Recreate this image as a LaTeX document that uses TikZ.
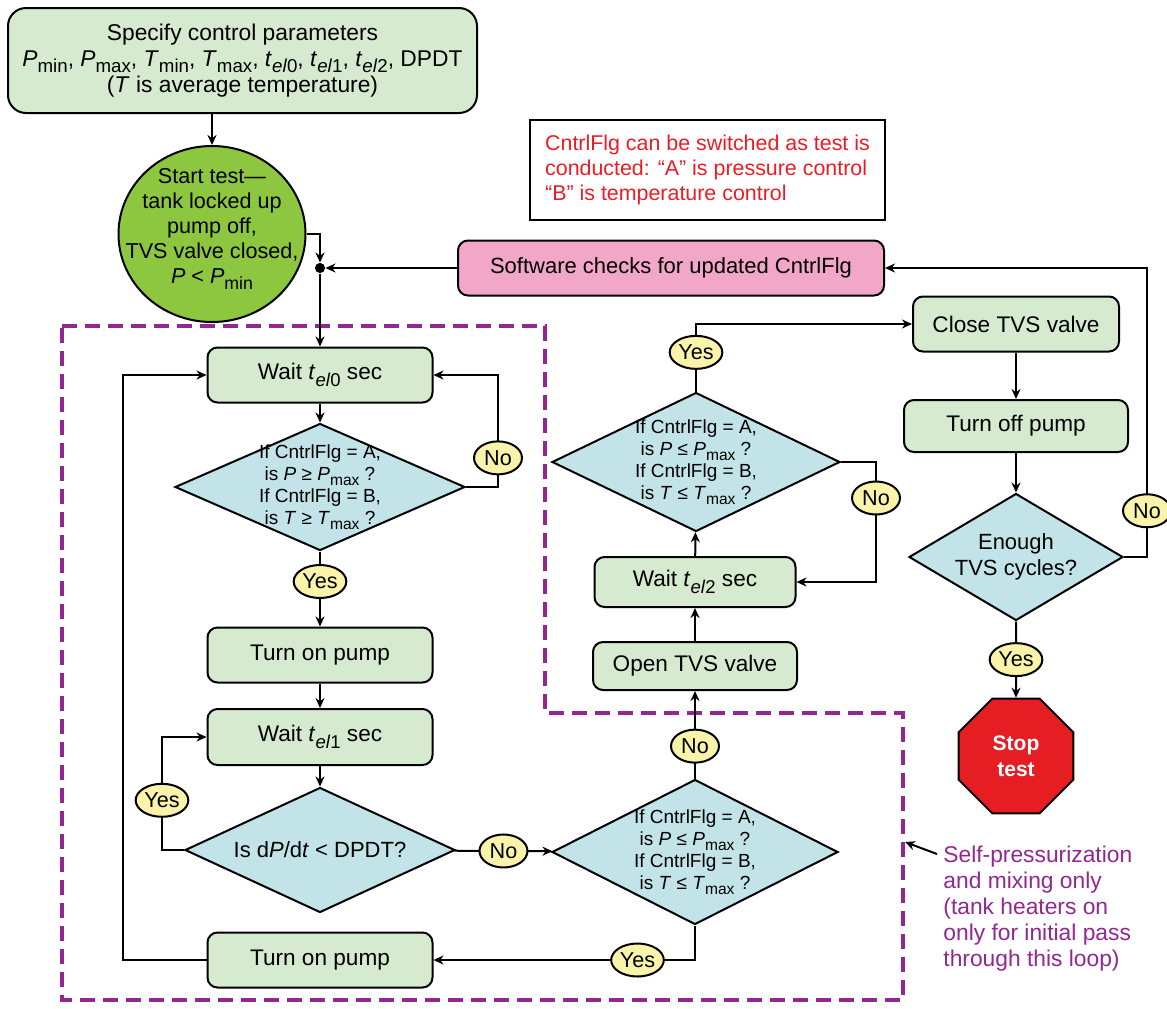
\documentclass[tikz,border=0pt]{standalone}
\usepackage{fontspec}
\usepackage{graphicx}
\setmainfont{Liberation Sans}
\usetikzlibrary{shapes.geometric,arrows.meta}
\definecolor{boxgreen}{RGB}{214,234,208}
\definecolor{diablue}{RGB}{194,228,232}
\definecolor{ynyellow}{RGB}{250,243,170}
\definecolor{startgreen}{RGB}{141,198,63}
\definecolor{softpink}{RGB}{243,167,200}
\definecolor{stopred}{RGB}{230,30,36}
\definecolor{looppurple}{RGB}{146,39,143}
\definecolor{notered}{RGB}{237,28,36}
\newcommand{\lowsub}[1]{\raisebox{-0.28em}{\scalebox{0.82}{#1}}}
\newcommand{\vsub}[2]{\textit{#1}\lowsub{#2}}
\newcommand{\tel}[1]{\textit{t}\lowsub{\textit{el}#1}}
\tikzset{
  proc/.style={draw, line width=1pt, rounded corners=5pt, fill=boxgreen, align=center,
    font=\fontsize{11.3}{13}\selectfont, minimum width=112.5pt, minimum height=27.5pt},
  dia/.style={draw, line width=1pt, diamond, fill=diablue, inner sep=0pt},
  dtext/.style={align=center, font=\fontsize{9.5}{11}\selectfont},
  yn/.style={draw, ellipse, line width=1pt, fill=ynyellow, inner sep=0.5pt,
    minimum width=24pt, minimum height=16.5pt, font=\fontsize{10.8}{11}\selectfont},
  arr/.style={line width=1pt, -{Stealth[length=5pt,width=4.5pt]}}
}
\begin{document}
\begin{tikzpicture}[x=0.5pt, y=-0.5pt]
  \useasboundingbox (0,0) rectangle (1167,1008);

  \draw[looppurple, line width=1.6pt, dash pattern=on 7.5pt off 4pt]
    (62,326) -- (545,326) -- (545,713) -- (903,713) -- (903,1000) -- (62,1000) -- cycle;

  \node[proc, minimum width=234.5pt, minimum height=52.5pt, rounded corners=9pt,
    font=\fontsize{11.4}{13}\selectfont] (spec) at (242.5,60.5)
    {Specify control parameters\\
     \vsub{P}{min}, \vsub{P}{max}, \vsub{T}{min}, \vsub{T}{max}, \tel{0}, \tel{1}, \tel{2}, DPDT\\
     (\textit{T} is average temperature)};
  \node[draw, ellipse, line width=1pt, fill=startgreen, inner sep=0pt,
    minimum width=93.5pt, minimum height=88pt] (start) at (212,234) {};
  \node[align=center, font=\fontsize{10.8}{12.5}\selectfont] (startt) at (212,229)
    {Start test---\\tank locked up\\pump off,\\TVS valve closed,\\\textit{P} < \vsub{P}{min}};
  \node[circle, fill, inner sep=1.8pt] (jn) at (320,268) {};
  \node[proc, fill=softpink, minimum width=213pt, font=\fontsize{11}{13}\selectfont] (soft) at (671,268)
    {Software checks for updated CntrlFlg};
  \node[draw, line width=1.3pt, text=notered, align=left, minimum width=175.5pt,
    inner xsep=7.5pt, minimum height=50pt, font=\fontsize{10.7}{12.5}\selectfont]
    (note) at (707.5,170)
    {CntrlFlg can be switched as test is\\conducted: ``A'' is pressure control\\``B'' is temperature control};

  \node[proc] (wait0) at (320,375) {Wait \tel{0} sec};
  \node[dia, minimum width=145pt, minimum height=63.5pt] (d1) at (320,487) {};
  \node[dtext] (d1t) at (d1) {If CntrlFlg = A,\\ is \textit{P} ≥ \vsub{P}{max} ?\\If CntrlFlg = B,\\is \textit{T} ≥ \vsub{T}{max} ?};
  \node[proc] (pump1) at (320,655) {Turn on pump};
  \node[proc, minimum height=28pt] (wait1) at (320,737) {Wait \tel{1} sec};
  \node[dia, minimum width=135pt, minimum height=62.5pt] (d2) at (320,850) {};
  \node[dtext, font=\fontsize{11}{13}\selectfont] (d2t) at (d2) {Is d\textit{P}/d\textit{t} < DPDT?};
  \node[proc] (pump2) at (320,960) {Turn on pump};

  \node[dia, minimum width=143pt, minimum height=72.5pt] (d3) at (695,852) {};
  \node[dtext] (d3t) at (d3) {If CntrlFlg = A,\\ is \textit{P} ≤ \vsub{P}{max} ?\\If CntrlFlg = B,\\is \textit{T} ≤ \vsub{T}{max} ?};
  \node[proc, minimum width=102pt, minimum height=24pt] (open) at (695,666) {Open TVS valve};
  \node[proc, minimum width=100.5pt, minimum height=25pt] (wait2) at (695,582) {Wait \tel{2} sec};
  \node[dia, minimum width=144pt, minimum height=69.5pt] (d4) at (696,462) {};
  \node[dtext] (d4t) at (d4) {If CntrlFlg = A,\\ is \textit{P} ≤ \vsub{P}{max} ?\\If CntrlFlg = B,\\is \textit{T} ≤ \vsub{T}{max} ?};

  \node[proc, minimum width=103pt] (close) at (1016,324) {Close TVS valve};
  \node[proc, minimum width=112pt, minimum height=26pt] (off) at (1016,426) {Turn off pump};
  \node[dia, minimum width=107pt, minimum height=63.5pt] (d5) at (1016,557) {};
  \node[dtext, font=\fontsize{11}{13}\selectfont] (d5t) at (d5) {Enough\\TVS cycles?};
  \node[draw, line width=1pt, regular polygon, regular polygon sides=8, fill=stopred,
    minimum size=62pt, inner sep=0pt, text=white, align=center,
    font=\bfseries\fontsize{10.5}{13}\selectfont] (stop) at (1016,756) {Stop\\test};

  \node[text=looppurple, align=left, anchor=north west, inner sep=0pt,
    font=\fontsize{11.4}{13}\selectfont] (loopnote) at (943,846)
    {Self-pressurization\\and mixing only\\(tank heaters on\\only for initial pass\\through this loop)};
  \coordinate (loopedge) at (905,842);

  \draw[arr] (start |- spec.south) -- (start);
  \draw[arr] (start.east) -| (jn);
  \draw[arr] (soft) -- (jn);
  \draw[arr] (jn) -- (wait0);
  \draw[arr] (wait0) -- (d1);
  \draw[arr] (d1.east) -- ++(32,0) |- node[yn, pos=0.13] (no1) {No} (wait0.east);
  \draw[arr] (d1) -- node[yn, pos=0.4] (yes1) {Yes} (pump1);
  \draw[arr] (pump1) -- (wait1);
  \draw[arr] (wait1) -- (d2);
  \draw[arr] (d2.west) -- ++(-22,0) |- node[yn, pos=0.22] (yes2) {Yes} (wait1.west);
  \draw[arr] (d2) -- node[yn] (no2) {No} (d3);
  \draw[arr] (d3.south) |- node[yn, pos=0.61] (yes3) {Yes} (pump2);
  \draw[arr] (pump2.west) -- ++(-84,0) |- (wait0.west);
  \draw[arr] (d3) -- node[yn, pos=0.37] (no3) {No} (open);
  \draw[arr] (open) -- (wait2);
  \draw[arr] (wait2) -- (d4);
  \draw[arr] (d4.east) -- ++(35,0) |- node[yn, pos=0.15] (no4) {No} (wait2.east);
  \draw[arr] (d4.north) |- node[yn, pos=0.29] (yes4) {Yes} (close);
  \draw[arr] (close) -- (off);
  \draw[arr] (off) -- (d5);
  \draw[arr] (d5.east) -- ++(23,0) |- node[yn, pos=0.08] (no5) {No} (soft);
  \draw[arr] (d5) -- node[yn] (yes5) {Yes} (stop);
  \draw[arr] ([shift={(-6,8)}]loopnote.north west) -- (loopedge);
\end{tikzpicture}
\end{document}
